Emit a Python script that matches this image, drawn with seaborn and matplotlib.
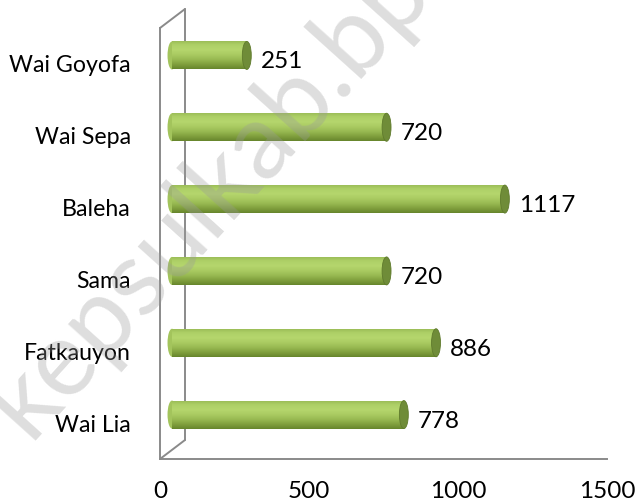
import numpy as np
import pandas as pd
import matplotlib
matplotlib.use("Agg")
import matplotlib.pyplot as plt
import matplotlib.transforms as mtrans
from matplotlib.patches import Ellipse
import seaborn as sns

categories = ["Wai Goyofa", "Wai Sepa", "Baleha", "Sama", "Fatkauyon", "Wai Lia"]
values = [251, 720, 1117, 720, 886, 778]
x_ticks = [0, 500, 1000, 1500]

sns.set_theme(style="white")
plt.rcParams["font.family"] = ["Lato", "DejaVu Sans"]

DPI = 100
fig = plt.figure(figsize=(6.36, 5.03), dpi=DPI)
ax = fig.add_axes([160 / 636, 44 / 503, 447 / 636, 431 / 503])

df = pd.DataFrame({"name": categories, "value": values})
sns.barplot(data=df, x="value", y="name", orient="h", color="#a6c75e",
            width=0.39, ax=ax, zorder=3)

ax.set_xlim(0, 1500)
ax.set_ylim(5.5, -0.5)
ax.set_xlabel("")
ax.set_ylabel("")

grey = "#8a8a8a"
for s in ["top", "right"]:
    ax.spines[s].set_visible(False)
for s in ["left", "bottom"]:
    ax.spines[s].set_color(grey)
    ax.spines[s].set_linewidth(1.4)

ax.set_xticks(x_ticks)
ax.set_xticklabels([str(t) for t in x_ticks])
ax.tick_params(axis="x", direction="out", length=6, width=1.4, color=grey,
               labelsize=17.5, pad=10, labelcolor="black")
ax.set_yticks(range(len(categories)))
ax.set_yticklabels(categories)
ax.tick_params(axis="y", length=0, labelsize=16.7, pad=21, labelcolor="black")
ax.set_yticks(np.arange(-0.5, len(categories), 1.0), minor=True)
ax.tick_params(axis="y", which="minor", direction="out", length=6, width=1.4, color=grey)

# 3D-like depth offsets
bar_off = ax.transData + mtrans.ScaledTranslation(12 / DPI, 8.5 / DPI, fig.dpi_scale_trans)
wall_off = ax.transData + mtrans.ScaledTranslation(25 / DPI, 19 / DPI, fig.dpi_scale_trans)
base_off = ax.transData

# back wall and connecting diagonals
ax.plot([0, 0], [5.5, -0.5], transform=wall_off, color=grey, lw=1.4, clip_on=False, zorder=1)
for yv in [5.5, -0.5]:
    p0 = base_off.transform((0, yv))
    p1 = wall_off.transform((0, yv))
    inv = ax.transData.inverted()
    a, b = inv.transform(p0), inv.transform(p1)
    ax.plot([a[0], b[0]], [a[1], b[1]], color=grey, lw=1.4, clip_on=False, zorder=1)

# cylinder gradient
grad_colors = ["#97b953", "#aed067", "#b5d66d", "#aacb62", "#98ba52", "#81a03e", "#66852c"]
cmap = matplotlib.colors.LinearSegmentedColormap.from_list("cyl", grad_colors)
grad = np.linspace(0, 1, 256).reshape(-1, 1)

for patch, v in zip(ax.patches, values):
    patch.set_transform(bar_off)
    patch.set_edgecolor("none")
    yc = patch.get_y() + patch.get_height() / 2
    x0, y0 = patch.get_x(), patch.get_y()
    w, hh = patch.get_width(), patch.get_height()
    im = ax.imshow(grad, cmap=cmap, aspect="auto", extent=[x0, x0 + w, y0 + hh, y0],
                   transform=bar_off, zorder=3.5, interpolation="bilinear")
    im.set_clip_path(patch)
    e0 = Ellipse((0, yc), 30, hh, transform=bar_off, facecolor="#a3c45c",
                 edgecolor="none", zorder=3.4)
    ax.add_patch(e0)
    e1 = Ellipse((v, yc), 30, hh, transform=bar_off, facecolor="#6f8c38",
                 edgecolor="#5f7a2c", lw=0.6, zorder=4)
    ax.add_patch(e1)
    ax.annotate(str(v), xy=(v, yc), xycoords="data", xytext=(26, 2),
                textcoords="offset pixels", ha="left", va="center",
                fontsize=17.5, color="black", zorder=5)

ax.set_ylim(5.5, -0.5)
ax.set_xlim(0, 1500)

# watermark
fig.text(0.045, 0.125, "kepsulkab.bps.go.id", rotation=48, rotation_mode="anchor",
         ha="left", va="baseline", fontsize=76, color="#9a9a9a", alpha=0.33, zorder=10)

fig.savefig("out.png", dpi=DPI, facecolor="white")
